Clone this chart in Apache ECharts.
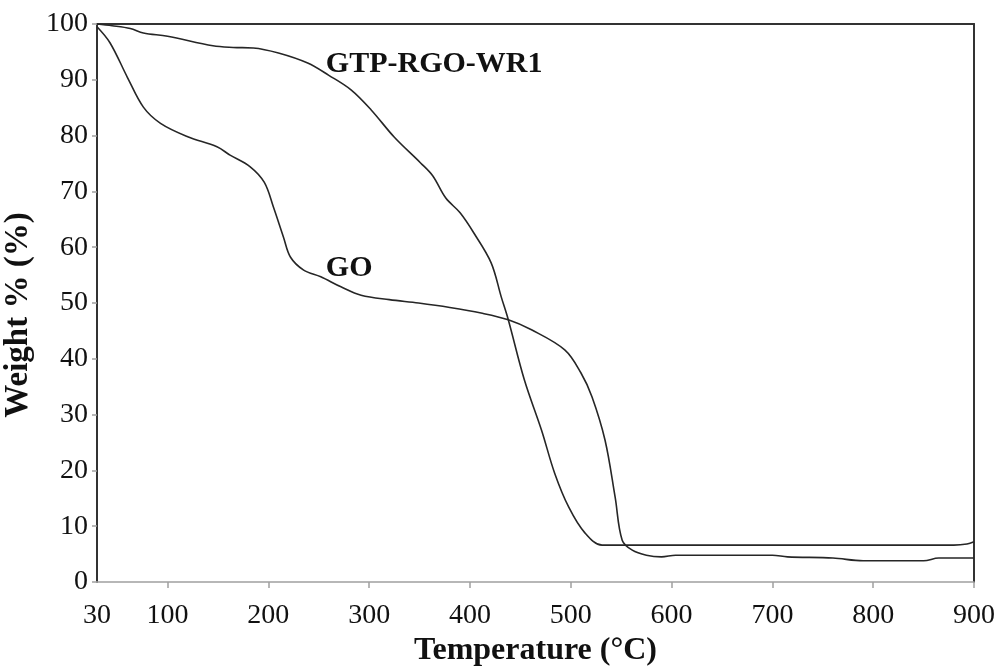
<!DOCTYPE html>
<html lang="en">
<head>
    <meta charset="utf-8">
    <title>TGA GO vs GTP-RGO-WR1</title>
    <script src="https://cdn.jsdelivr.net/npm/echarts@6/dist/echarts.min.js"></script>
    <style>
        html, body, #chart {
            width: 100%; height: 100%; margin: 0; padding: 0; overflow: hidden; background-color: #ffffff;
        }
    </style>
</head>
<body>
<div id="chart"></div>
<script type="text/javascript">
    // 数据：读自原图
    var gtpTemp   = [30, 45, 63, 76, 100, 145, 165, 185, 210, 239, 260, 282, 302, 325, 351, 363, 376, 390, 404, 421, 431, 438, 454, 471, 484, 498, 514, 531, 560, 700, 880, 893, 900];
    var gtpWeight = [100, 99.7, 99.2, 98.4, 97.8, 96.1, 95.8, 95.7, 94.8, 93, 90.8, 88.2, 84.6, 79.7, 75.1, 72.8, 68.8, 66.2, 62.5, 57.2, 51.1, 47, 36.2, 27.2, 19.5, 13.4, 8.8, 6.6, 6.6, 6.6, 6.6, 6.8, 7.2];

    var goTemp   = [30, 43, 60, 76, 93, 120, 149, 162, 182, 196, 205, 215, 222, 235, 252, 272, 292, 320, 349, 380, 411, 438, 461, 494, 510, 521, 534, 544, 551, 561, 575, 590, 604, 700, 715, 760, 790, 850, 865, 900];
    var goWeight = [99.5, 96.6, 90.5, 85.1, 82.2, 79.8, 78, 76.5, 74.4, 71.6, 67.2, 61.8, 58.2, 55.9, 54.7, 52.9, 51.4, 50.6, 50, 49.2, 48.2, 47, 45.2, 41.6, 37.5, 33.2, 25.4, 15.2, 7.5, 5.7, 4.8, 4.5, 4.8, 4.8, 4.5, 4.3, 3.8, 3.8, 4.3, 4.3];

    var xTickValues  = [100, 200, 300, 400, 500, 600, 700, 800, 900];
    var xLabelValues = [30, 100, 200, 300, 400, 500, 600, 700, 800, 900];

    var labelText = ['GTP-RGO-WR1', 'GO'];
    var labelX    = [257, 257];
    var labelY    = [92.8, 56.3];

    var FONT = '"Liberation Serif", "Times New Roman", serif';
    var LINE = '#262626';

    function pairs(xs, ys) {
        var res = [];
        for (var i = 0; i < xs.length; i++) {
            res.push([xs[i], ys[i]]);
        }
        return res;
    }

    var myChart = echarts.init(document.getElementById('chart'));

    var option = {
        backgroundColor: '#ffffff',
        animation: false,
        grid: {
            left: 97, right: 29, top: 24, bottom: 87,
            containLabel: false,
            outerBoundsMode: 'none'
        },
        xAxis: [
            {
                type: 'value',
                position: 'bottom',
                min: 30,
                max: 900,
                name: 'Temperature (°C)',
                nameLocation: 'middle',
                nameGap: 50,
                nameTextStyle: { fontFamily: FONT, fontSize: 32, fontWeight: 'bold', color: '#111' },
                axisLine: { onZero: false, lineStyle: { color: '#a0a0a0', width: 1.5 } },
                axisTick: { show: true, customValues: xTickValues, length: 6, lineStyle: { color: '#a0a0a0', width: 1.5 } },
                axisLabel: { customValues: xLabelValues, margin: 20, fontFamily: FONT, fontSize: 28, color: '#111' },
                splitLine: { show: false }
            },
            {
                type: 'value',
                position: 'top',
                min: 30,
                max: 900,
                axisLine: { show: true, onZero: false, lineStyle: { color: '#333', width: 2 } },
                axisTick: { show: false },
                axisLabel: { show: false },
                splitLine: { show: false }
            }
        ],
        yAxis: [
            {
                type: 'value',
                position: 'left',
                min: 0,
                max: 100,
                interval: 10,
                name: 'Weight % (%)',
                nameLocation: 'middle',
                nameGap: 44,
                nameTextStyle: { fontFamily: FONT, fontSize: 33, fontWeight: 'bold', color: '#111', padding: [0, 24, 0, 0] },
                axisLine: { show: true, onZero: false, lineStyle: { color: '#333', width: 2 } },
                axisTick: { show: true, length: 5, lineStyle: { color: '#a0a0a0', width: 1.5 } },
                axisLabel: { margin: 9, fontFamily: FONT, fontSize: 28, color: '#111' },
                splitLine: { show: false }
            },
            {
                type: 'value',
                position: 'right',
                min: 0,
                max: 100,
                axisLine: { show: true, onZero: false, lineStyle: { color: '#333', width: 2 } },
                axisTick: { show: false },
                axisLabel: { show: false },
                splitLine: { show: false }
            }
        ],
        series: [
            {
                name: 'GTP-RGO-WR1',
                type: 'line',
                data: pairs(gtpTemp, gtpWeight),
                showSymbol: false,
                smooth: 0.35,
                lineStyle: { color: LINE, width: 1.6 }
            },
            {
                name: 'GO',
                type: 'line',
                data: pairs(goTemp, goWeight),
                showSymbol: false,
                smooth: 0.35,
                lineStyle: { color: LINE, width: 1.6 }
            },
            {
                name: 'labels',
                type: 'scatter',
                symbolSize: 0,
                itemStyle: { opacity: 1 },
                data: labelText.map(function (t, i) { return { value: [labelX[i], labelY[i]], name: t }; }),
                label: {
                    show: true,
                    position: 'right',
                    distance: 0,
                    formatter: '{b}',
                    fontFamily: FONT,
                    fontSize: 30,
                    fontWeight: 'bold',
                    color: '#111',
                    opacity: 1
                },
                silent: true
            }
        ]
    };

    myChart.setOption(option);
</script>
</body>
</html>
